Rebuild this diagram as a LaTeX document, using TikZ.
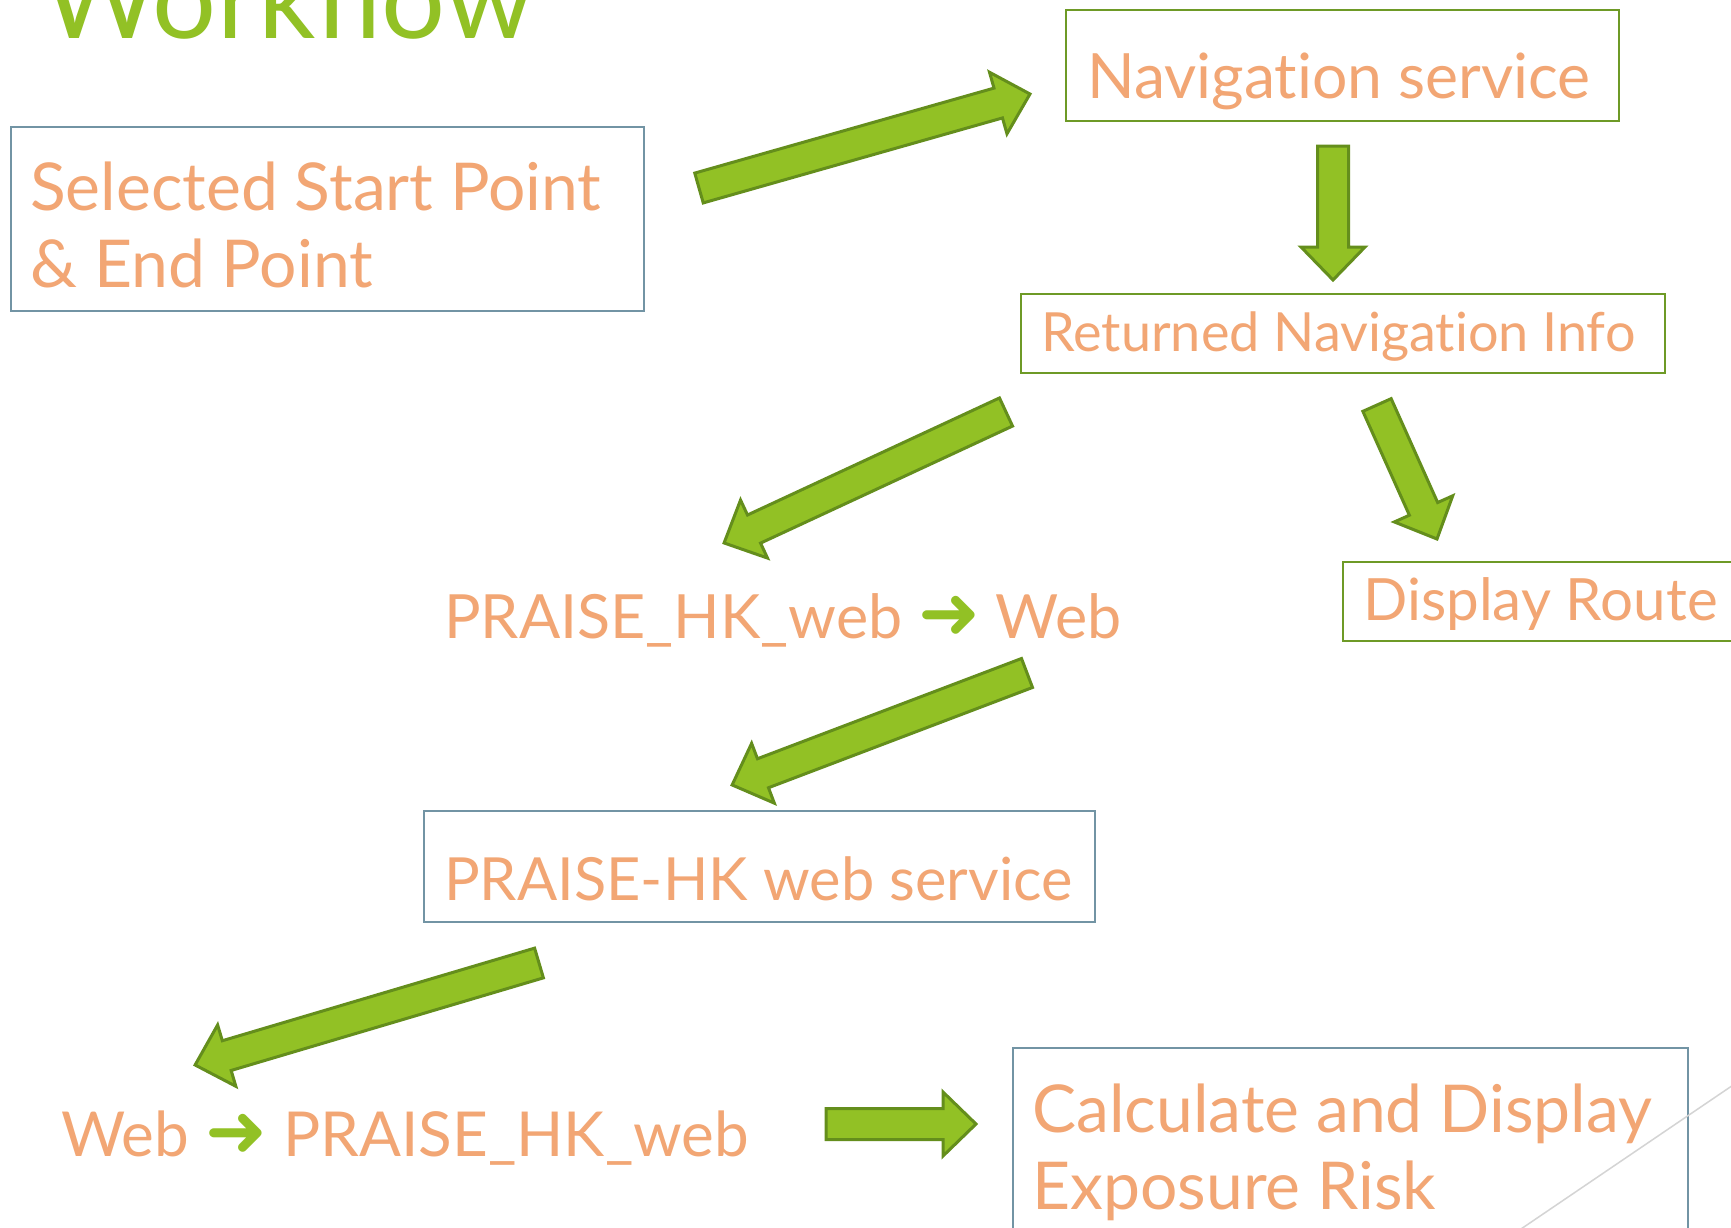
\documentclass[tikz,border=0pt]{standalone}
\usepackage{fontspec}
\setmainfont{Lato}[Ligatures={NoCommon,NoRequired,NoContextual}]
\newfontfamily\symfont{DejaVu Sans}
\usetikzlibrary{calc}
\definecolor{txt}{HTML}{F2A674}
\definecolor{grn}{HTML}{92C125}
\definecolor{grnd}{HTML}{648E1C}
\definecolor{bluebox}{HTML}{7294A4}
\definecolor{grnbox}{HTML}{6E9A26}
\definecolor{grayline}{HTML}{D4D4D4}
\tikzset{
  bbox/.style={draw=bluebox, line width=2pt, inner sep=0pt, anchor=north west},
  gbox/.style={draw=grnbox, line width=2pt, inner sep=0pt, anchor=north west},
  lbl/.style={text=txt, inner sep=0pt, anchor=base west, font=\fontsize{#1}{77}\selectfont, align=left},
  barrowstyle/.style={draw=grnd, fill=grn, line width=3pt, line join=miter},
}
\newcommand{\garrow}{{\color{grn}\symfont\fontsize{74}{77}\selectfont ➜}}
\newcommand{\blockarr}[2]{%
  \draw[barrowstyle] let \p1=(#1), \p2=(#2),
    \n1={atan2(\y2-\y1,\x2-\x1)},
    \n2={10*veclen((\x2-\x1)/10,(\y2-\y1)/10)} in
    [shift={(\p1)}, rotate=\n1]
    (0pt,-15.5pt) -- (\n2-33pt,-15.5pt) -- (\n2-33pt,-32pt) -- (\n2,0pt)
    -- (\n2-33pt,32pt) -- (\n2-33pt,15.5pt) -- (0pt,15.5pt) -- cycle;}
\begin{document}
\begin{tikzpicture}[x=1pt,y=-1pt]
\useasboundingbox (0,0) rectangle (1731,1228);
\clip (0,0) rectangle (1731,1228);
\fill[white] (0,0) rectangle (1731,1228);
% title
\node[text=grn, inner sep=0pt, anchor=base west, font=\fontsize{113}{120}\selectfont] (title) at (42,39) {Workflow};
% boxes
\node[bbox, minimum width=633pt, minimum height=184pt] (b1) at (10,126) {};
\node[lbl=66] (t1) at (30,287) {Selected Start Point\\\& End Point};
\node[gbox, minimum width=553pt, minimum height=111pt] (b2) at (1065,9) {};
\node[lbl=62.5] (t2) at (1087,99) {Navigation service};
\node[gbox, minimum width=644pt, minimum height=79pt] (b3) at (1020,293) {};
\node[lbl=54] (t3) at (1041,351) {Returned Navigation Info};
\node[gbox, minimum width=420pt, minimum height=79pt] (b4) at (1342,561) {};
\node[lbl=58.3] (t4) at (1363,620) {Display Route};
\node[lbl=61] (t5) at (444,638) {PRAISE\_HK\_web \garrow{} Web};
\node[bbox, minimum width=671pt, minimum height=111pt] (b5) at (423,810) {};
\node[lbl=59.5] (t6) at (444,900) {PRAISE-HK web service};
\node[lbl=62] (t7) at (61,1156) {Web \garrow{} PRAISE\_HK\_web};
\node[bbox, minimum width=675pt, minimum height=200pt] (b6) at (1012,1047) {};
\node[lbl=66] (t8) at (1032,1209) {Calculate and Display\\Exposure Risk};
% thin decorative line
\coordinate (g1) at (1770,1060);
\coordinate (g2) at (1490,1250);
\draw[draw=grayline, line width=1.5pt] (g1) -- (g2);
% block arrows
\coordinate (a1s) at (699,188);  \coordinate (a1e) at (1030,94);
\coordinate (a2s) at (1333,146); \coordinate (a2e) at (1333,280);
\coordinate (a3s) at (1006,412); \coordinate (a3e) at (724,543);
\coordinate (a4s) at (1377,405); \coordinate (a4e) at (1437,539);
\coordinate (a5s) at (1027,673); \coordinate (a5e) at (732,785);
\coordinate (a6s) at (539,963);  \coordinate (a6e) at (195,1065);
\coordinate (a7s) at (826,1124); \coordinate (a7e) at (976,1124);
\blockarr{a1s}{a1e}
\blockarr{a2s}{a2e}
\blockarr{a3s}{a3e}
\blockarr{a4s}{a4e}
\blockarr{a5s}{a5e}
\blockarr{a6s}{a6e}
\blockarr{a7s}{a7e}
\end{tikzpicture}
\end{document}
